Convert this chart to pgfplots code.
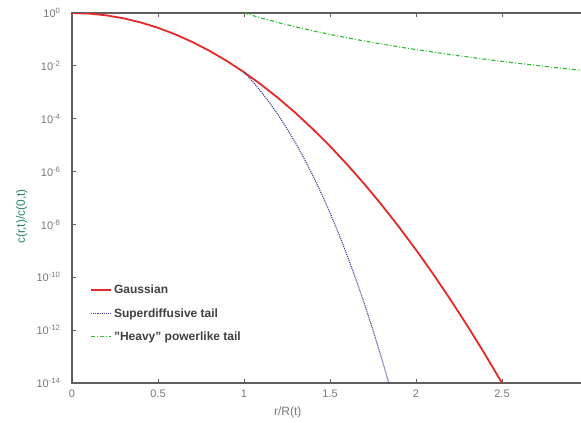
\documentclass[border=0pt]{standalone}
\usepackage{fontspec}
\setmainfont{Liberation Sans}
\usepackage{pgfplots}
\pgfplotsset{compat=1.18}
\definecolor{axgray}{RGB}{95,95,95}
\definecolor{lblgray}{RGB}{120,120,120}
\definecolor{gred}{RGB}{230,40,40}
\definecolor{sblue}{RGB}{60,60,150}
\definecolor{hgreen}{RGB}{40,190,40}
\definecolor{ylab}{RGB}{40,130,100}
\begin{document}
\begin{tikzpicture}
\useasboundingbox (0,0) rectangle (581pt,423pt);
\begin{axis}[
  at={(72pt,40pt)}, anchor=south west,
  scale only axis, width=516pt, height=370pt,
  ymode=log, xmin=0, xmax=3, ymin=1e-14, ymax=1,
  xtick={0,0.5,1,1.5,2,2.5,3},
  xticklabels={0,0.5,1,1.5,2,2.5,{}},
  ytick={1e-14,1e-12,1e-10,1e-8,1e-6,1e-4,1e-2,1},
  yticklabels={10\textsuperscript{-14},10\textsuperscript{-12},10\textsuperscript{-10},10\textsuperscript{-8},10\textsuperscript{-6},10\textsuperscript{-4},10\textsuperscript{-2},10\textsuperscript{0}},
  minor ytick={}, yminorticks=false,
  tick align=inside, major tick length=4pt,
  axis line style={axgray, line width=1.3pt},
  every tick/.style={axgray, line width=0.8pt},
  tick label style={lblgray, font=\fontsize{11}{13}\selectfont},
  xticklabel style={yshift=-3pt},
  yticklabel style={xshift=-8pt},
  xlabel={r/R(t)}, ylabel={c(r,t)/c(0,t)},
  xlabel style={font=\fontsize{12}{14}\selectfont, text=lblgray, at={(axis description cs:0.418,0)}, anchor=north, yshift=-20pt},
  ylabel style={font=\fontsize{12}{14}\selectfont, text=ylab, at={(axis description cs:0,0.45)}, anchor=south, yshift=41pt},
  legend style={draw=none, fill=none, at={(axis description cs:0.035,0.27)}, anchor=north west,
    font=\bfseries\fontsize{12}{14}\selectfont, text=black!75, row sep=9pt,
    inner sep=0pt},
  legend cell align=left,
  legend image code/.code={\draw[#1] (0pt,0pt) -- (20pt,0pt);},
  clip=true,
]
\addplot[gred, line width=1.8pt] coordinates {
(0,1) (0.1,0.9497) (0.2,0.8136) (0.3,0.6287) (0.4,0.4381) (0.5,0.2754)
(0.6,0.1562) (0.7,0.07988) (0.8,0.03685) (0.9,0.01533) (1.0,5.754e-3)
(1.1,1.948e-3) (1.2,5.951e-4) (1.3,1.638e-4) (1.4,4.07e-5) (1.5,9.12e-6)
(1.6,1.844e-6) (1.7,3.36e-7) (1.8,5.526e-8) (1.9,8.195e-9) (2.0,1.096e-9)
(2.1,1.323e-10) (2.2,1.44e-11) (2.3,1.414e-12) (2.4,1.252e-13) (2.5,1e-14)
};
\addlegendentry{Gaussian}
\addplot[sblue, line width=1.1pt, densely dotted] coordinates {
(1.0,5.754e-3) (1.05,2.553e-3) (1.1,1.044e-3) (1.15,3.92e-4) (1.2,1.347e-4)
(1.25,4.217e-5) (1.3,1.199e-5) (1.35,3.082e-6) (1.4,7.135e-7) (1.45,1.483e-7)
(1.5,2.754e-8) (1.55,4.555e-9) (1.6,6.683e-10) (1.65,8.66e-11) (1.7,9.883e-12)
(1.75,9.886e-13) (1.8,8.637e-14) (1.84,1.112e-14) (1.85,6.56e-15)
};
\addlegendentry{Superdiffusive tail}
\addplot[hgreen, line width=1.1pt, dash pattern=on 4pt off 2pt on 1pt off 2pt] coordinates {
(1.0,1) (1.1,0.6451) (1.2,0.4323) (1.3,0.2991) (1.4,0.2128) (1.5,0.1549)
(1.6,0.1151) (1.7,0.08709) (1.8,0.06695) (1.9,0.05221) (2.0,0.04123)
(2.2,0.02660) (2.4,0.01782) (2.6,0.01234) (2.8,8.771e-3) (3.0,6.387e-3)
};
\addlegendentry{"Heavy" powerlike tail}
\end{axis}
\end{tikzpicture}
\end{document}
